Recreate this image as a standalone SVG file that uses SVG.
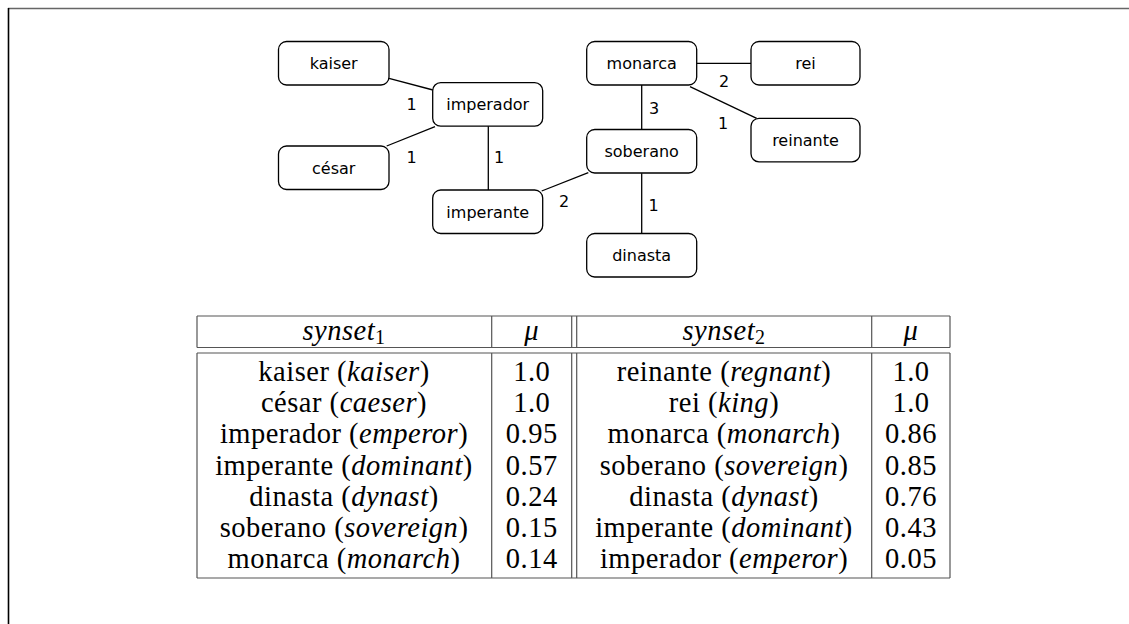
<svg xmlns="http://www.w3.org/2000/svg" width="1129" height="624" viewBox="0 0 1129 624">
<style>
.box{fill:#fff;stroke:#000;stroke-width:1.3}
.nt{font-family:"DejaVu Sans",sans-serif;font-size:16px;text-anchor:middle;fill:#000}
.el{font-family:"DejaVu Sans",sans-serif;font-size:16px;text-anchor:middle;fill:#000}
.edge{stroke:#000;stroke-width:1.3;fill:none}
.tl{stroke:#555;stroke-width:1.2;fill:none}
.tt{font-family:"Liberation Serif",serif;font-size:28.5px;letter-spacing:0.5px;text-anchor:middle;fill:#000}
.it{font-style:italic}
</style>
<rect x="0" y="0" width="1129" height="624" fill="#fff"/>
<g id="frame">
<line x1="8" y1="8.5" x2="1129" y2="8.5" stroke="#666" stroke-width="1.6"/>
<line x1="8.5" y1="8" x2="8.5" y2="624" stroke="#000" stroke-width="1.6"/>
</g>
<g id="connectors">
<line class="edge" x1="389" y1="78.3" x2="433" y2="90"/>
<line class="edge" x1="386.7" y1="146" x2="435" y2="126.7"/>
<line class="edge" x1="488.3" y1="126" x2="488.3" y2="190"/>
<line class="edge" x1="541.7" y1="191" x2="588.3" y2="172.7"/>
<line class="edge" x1="696.7" y1="63.3" x2="751" y2="63.3"/>
<line class="edge" x1="690" y1="86.7" x2="756.7" y2="118.3"/>
<line class="edge" x1="641.7" y1="85" x2="641.7" y2="129.3"/>
<line class="edge" x1="641.7" y1="173.3" x2="641.7" y2="233.3"/>
<text class="el" x="411.7" y="110">1</text>
<text class="el" x="411.7" y="163">1</text>
<text class="el" x="499" y="163">1</text>
<text class="el" x="724" y="87">2</text>
<text class="el" x="723" y="128.5">1</text>
<text class="el" x="654" y="114">3</text>
<text class="el" x="564" y="207">2</text>
<text class="el" x="653.5" y="211">1</text>
</g>
<g id="kaiser"><rect class="box" x="278.5" y="41.5" width="110.5" height="43.5" rx="8"/><text class="nt" x="333.7" y="69">kaiser</text></g>
<g id="imperador"><rect class="box" x="432.7" y="82.7" width="110" height="43.5" rx="8"/><text class="nt" x="487.7" y="110">imperador</text></g>
<g id="cesar"><rect class="box" x="278.5" y="146" width="110.5" height="43.5" rx="8"/><text class="nt" x="333.7" y="174">césar</text></g>
<g id="imperante"><rect class="box" x="432.7" y="190" width="110" height="43.5" rx="8"/><text class="nt" x="487.7" y="218">imperante</text></g>
<g id="monarca"><rect class="box" x="586.7" y="41.5" width="110" height="43.5" rx="8"/><text class="nt" x="641.7" y="69">monarca</text></g>
<g id="rei"><rect class="box" x="751" y="41.5" width="109" height="43.5" rx="8"/><text class="nt" x="805.5" y="69">rei</text></g>
<g id="reinante"><rect class="box" x="751" y="118.3" width="109" height="43.5" rx="8"/><text class="nt" x="805.5" y="146">reinante</text></g>
<g id="soberano"><rect class="box" x="586.7" y="129.5" width="110" height="43.5" rx="8"/><text class="nt" x="641.7" y="157">soberano</text></g>
<g id="dinasta"><rect class="box" x="586.7" y="233.5" width="110" height="43.5" rx="8"/><text class="nt" x="641.7" y="261">dinasta</text></g>
<g id="table">
<line class="tl" x1="197" y1="316" x2="950" y2="316"/>
<line class="tl" x1="197" y1="347.5" x2="950" y2="347.5"/>
<line class="tl" x1="197" y1="353" x2="950" y2="353"/>
<line class="tl" x1="197" y1="578" x2="950" y2="578"/>
<path class="tl" d="M197 316V347.5M491.7 316V347.5M571.7 316V347.5M576.7 316V347.5M871.7 316V347.5M950 316V347.5"/>
<path class="tl" d="M197 353V578M491.7 353V578M571.7 353V578M576.7 353V578M871.7 353V578M950 353V578"/>
<text class="tt" x="344" y="340"><tspan class="it">synset</tspan><tspan font-size="20" dy="4">1</tspan></text>
<text class="tt it" x="531.7" y="340">μ</text>
<text class="tt" x="724" y="340"><tspan class="it">synset</tspan><tspan font-size="20" dy="4">2</tspan></text>
<text class="tt it" x="911" y="340">μ</text>
<text class="tt" x="344" y="381">kaiser (<tspan class="it">kaiser</tspan>)</text>
<text class="tt" x="344" y="412">césar (<tspan class="it">caeser</tspan>)</text>
<text class="tt" x="344" y="443">imperador (<tspan class="it">emperor</tspan>)</text>
<text class="tt" x="344" y="474.5">imperante (<tspan class="it">dominant</tspan>)</text>
<text class="tt" x="344" y="505.5">dinasta (<tspan class="it">dynast</tspan>)</text>
<text class="tt" x="344" y="537">soberano (<tspan class="it">sovereign</tspan>)</text>
<text class="tt" x="344" y="568">monarca (<tspan class="it">monarch</tspan>)</text>
<text class="tt" x="531.7" y="381">1.0</text>
<text class="tt" x="531.7" y="412">1.0</text>
<text class="tt" x="531.7" y="443">0.95</text>
<text class="tt" x="531.7" y="474.5">0.57</text>
<text class="tt" x="531.7" y="505.5">0.24</text>
<text class="tt" x="531.7" y="537">0.15</text>
<text class="tt" x="531.7" y="568">0.14</text>
<text class="tt" x="724" y="381">reinante (<tspan class="it">regnant</tspan>)</text>
<text class="tt" x="724" y="412">rei (<tspan class="it">king</tspan>)</text>
<text class="tt" x="724" y="443">monarca (<tspan class="it">monarch</tspan>)</text>
<text class="tt" x="724" y="474.5">soberano (<tspan class="it">sovereign</tspan>)</text>
<text class="tt" x="724" y="505.5">dinasta (<tspan class="it">dynast</tspan>)</text>
<text class="tt" x="724" y="537">imperante (<tspan class="it">dominant</tspan>)</text>
<text class="tt" x="724" y="568">imperador (<tspan class="it">emperor</tspan>)</text>
<text class="tt" x="911" y="381">1.0</text>
<text class="tt" x="911" y="412">1.0</text>
<text class="tt" x="911" y="443">0.86</text>
<text class="tt" x="911" y="474.5">0.85</text>
<text class="tt" x="911" y="505.5">0.76</text>
<text class="tt" x="911" y="537">0.43</text>
<text class="tt" x="911" y="568">0.05</text>
</g>
</svg>
